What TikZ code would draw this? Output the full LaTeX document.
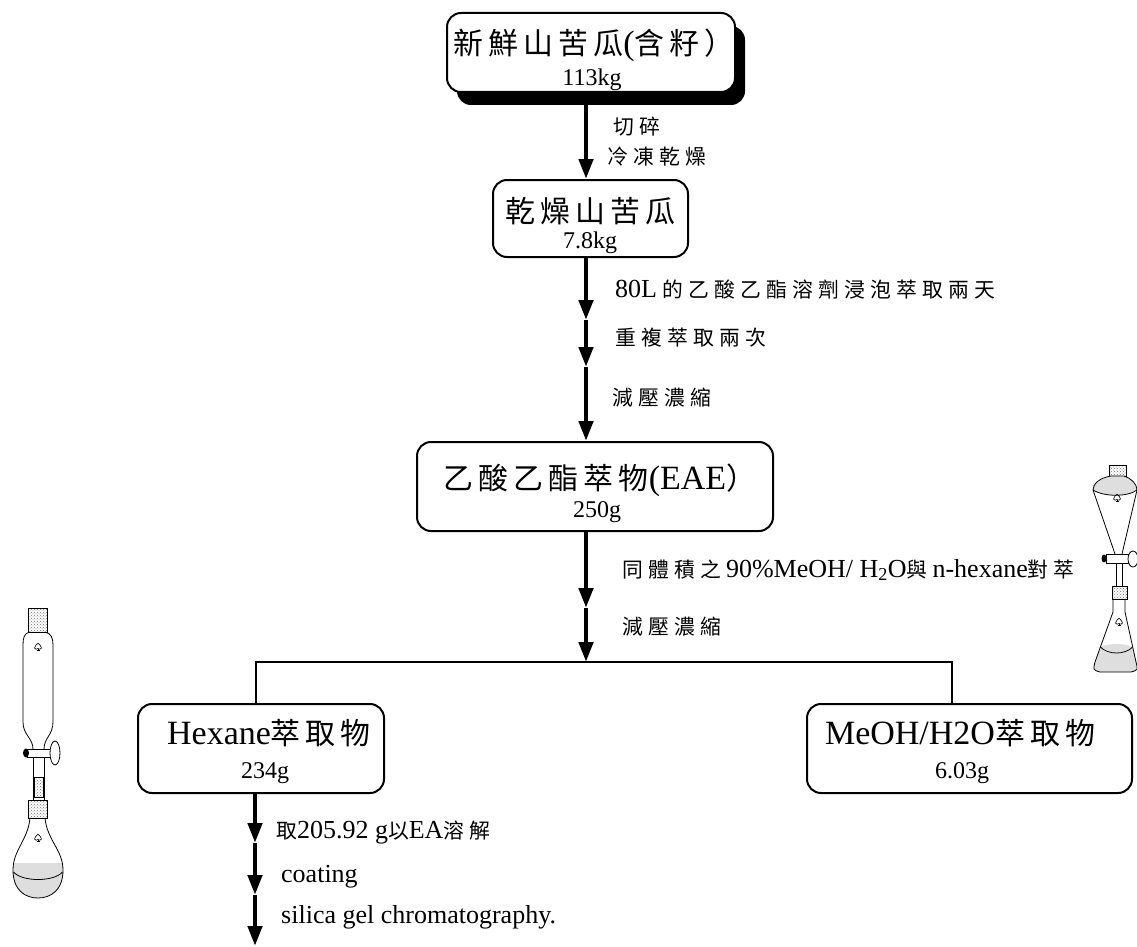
\documentclass[tikz,border=0pt]{standalone}
\usepackage{fontspec}
\setmainfont{Liberation Serif}
% CJK faces: one for box titles, one (wider tracking) for step notes
\newfontfamily\zhT[Scale=0.88,LetterSpace=17]{Noto Sans CJK TC}
\newfontfamily\zhL[Scale=0.8,LetterSpace=25]{Noto Sans CJK TC}
\newcommand\zhgap{\hspace{5pt}}
\usetikzlibrary{arrows.meta,patterns,shadows}

\tikzset{
  glassmark/.pic={
    \draw[line width=0.6pt] (0,-4) .. controls (-1,-2) and (-4,-1) .. (-3.5,1)
      .. controls (-3,2.5) and (-1,2.5) .. (0,1.5)
      .. controls (1,2.5) and (3,2.5) .. (3.5,1)
      .. controls (4,-1) and (1,-2) .. (0,-4);
    \draw[line width=0.6pt] (0,1.5) -- (0,3.5) (-1.5,3.5) -- (1.5,3.5);
  }
}

\begin{document}
\begin{tikzpicture}[x=1pt,y=-1pt,
  box/.style={draw, line width=2pt, rounded corners=14pt, fill=white, inner sep=0pt},
  ttl/.style={inner sep=0pt, font=\fontsize{34}{36}\selectfont},
  qty/.style={inner sep=0pt, font=\fontsize{24}{26}\selectfont},
  note/.style={inner sep=0pt, anchor=west, font=\fontsize{26}{28}\selectfont},
  flow/.style={line width=4.5pt, -{Triangle[length=20pt,width=14pt]}},
  wire/.style={line width=2pt},
  glass/.style={line width=0.8pt},
  cork/.style={glass, pattern=crosshatch dots, pattern color=black!55},
  liquid/.style={fill=black!13},
]
\useasboundingbox (0,0) rectangle (1137,947);

% ---------- process boxes ----------
\node[box, minimum width=288pt, minimum height=79pt,
      drop shadow={shadow xshift=10pt, shadow yshift=-13pt, fill=black, opacity=1}]
      (fresh) at (591,52.5) {};
\node[box, minimum width=195pt, minimum height=77pt] (dried) at (590.5,218.5) {};
\node[box, minimum width=356pt, minimum height=89pt] (eae) at (595,486.5) {};
\node[box, minimum width=246pt, minimum height=89pt] (hex) at (261,748.5) {};
\node[box, minimum width=325pt, minimum height=89pt] (aq) at (969.5,748.5) {};

\node[ttl] (freshT) at (594,45) {{\zhT 新鮮山苦瓜}({\zhT 含籽）}};
\node[qty] (freshQ) at (592,80) {113kg};
\node[ttl] (driedT) at (590,211) {{\zhT 乾燥山苦瓜}};
\node[qty] (driedQ) at (590,243) {7.8kg};
\node[ttl] (eaeT) at (600,480) {{\zhT 乙酸乙酯萃物}(EAE{\zhT ）}};
\node[qty] (eaeQ) at (597,512) {250g};
\node[ttl] (hexT) at (269,733) {Hexane{\zhT 萃取物}};
\node[qty] (hexQ) at (265,773) {234g};
\node[ttl] (aqT) at (960,733) {MeOH/H2O{\zhT 萃取物}};
\node[qty] (aqQ) at (962,773) {6.03g};

% ---------- arrow stations ----------
\coordinate (s1) at (586,320);
\coordinate (s2) at (586,367);
\coordinate (s3) at (586,608);
\coordinate (jl) at (256,662);
\coordinate (jm) at (586,662);
\coordinate (jr) at (952,662);
\coordinate (t1) at (255,843);
\coordinate (t2) at (255,895);
\coordinate (t3) at (255,946);

\draw[flow] (s1 |- fresh.south) -- (s1 |- dried.north);
\draw[flow] (s1 |- dried.south) -- (s1);
\draw[flow] (s1) -- (s2);
\draw[flow] (s2) -- (s2 |- eae.north);
\draw[flow] (s3 |- eae.south) -- (s3);
\draw[flow] (s3) -- (jm);
\draw[wire] (jl |- hex.north) -- (jl) -- (jr) -- (jr |- aq.north);
\draw[flow] (t1 |- hex.south) -- (t1);
\draw[flow] (t1) -- (t2);
\draw[flow] (t2) -- (t3);

% ---------- step notes ----------
\node[note] (n1) at (613,127) {{\zhL 切碎}};
\node[note] (n2) at (607,157) {{\zhL 冷凍乾燥}};
\node[note] (n3) at (615,290) {80L\zhgap{\zhL 的乙酸乙酯溶劑浸泡萃取兩天}};
\node[note] (n4) at (615,338) {{\zhL 重複萃取兩次}};
\node[note] (n5) at (612,398) {{\zhL 減壓濃縮}};
\node[note] (n6) at (622,570) {{\zhL 同體積之}\zhgap 90\%MeOH/ H\textsubscript{2}O{\zhL 與}\zhgap n-hexane{\zhL 對萃}};
\node[note] (n7) at (622,627) {{\zhL 減壓濃縮}};
\node[note] (n8) at (276,832) {{\zhL 取}205.92 g{\zhL 以}EA{\zhL 溶解}};
\node[note] (n9) at (281,877) {coating};
\node[note] (n10) at (281,917) {silica gel chromatography.};

% ---------- separatory funnel over conical flask ----------
\draw[cork] (1109,465) rectangle (1126,476);
\filldraw[glass, liquid] (1111,476) .. controls (1099,478) and (1093,484) .. (1093,490)
  .. controls (1104,497) and (1128,497) .. (1137,490)
  .. controls (1137,484) and (1131,478) .. (1124,476) -- cycle;
\draw[glass] (1093,490) -- (1115,554) (1137,490) -- (1122,554);
\pic at (1117,498) {glassmark};
\draw[glass, fill=white] (1106,554) rectangle (1129,563);
\draw[glass, fill=white] (1133,559) ellipse (5pt and 8pt);
\fill (1104,558.5) ellipse (2.5pt and 4pt);
\draw[glass] (1116,563) -- (1116,586) (1122,563) -- (1122,586);
\draw[cork] (1112,586) rectangle (1127,599);
\fill[liquid] (1100.4,647) .. controls (1108,643) and (1125,643) .. (1132.7,647)
  -- (1136,662) .. controls (1138,670) .. (1131,672) -- (1100,672)
  .. controls (1093,670) .. (1095,662) -- cycle;
\draw[glass] (1113,599) -- (1113,612) -- (1095,662) .. controls (1093,670) .. (1100,672)
  -- (1131,672) .. controls (1138,670) .. (1136,662) -- (1125,612) -- (1125,599);
\draw[glass] (1100.4,647) .. controls (1108,655) and (1125,655) .. (1132.7,647);
\pic at (1119,622) {glassmark};

% ---------- addition funnel over pear-shaped flask ----------
\draw[cork] (28,608) rectangle (47,632);
\draw[glass] (30,632) .. controls (24,633) and (23,638) .. (23,645) -- (23,722)
  .. controls (23,735) and (33,738) .. (33,749);
\draw[glass] (45,632) .. controls (51,633) and (53,638) .. (53,645) -- (53,722)
  .. controls (53,735) and (44,738) .. (44,749);
\pic at (38,647) {glassmark};
\draw[glass, fill=white] (27,749) rectangle (52,757);
\draw[glass, fill=white] (55,753) ellipse (5pt and 12pt);
\fill (26,753) ellipse (3pt and 4.5pt);
\draw[glass] (33,757) -- (33,800) (44,757) -- (44,800);
\draw[cork] (34,777) rectangle (43,797);
\draw[cork] (28,800) rectangle (47,818);
\begin{scope}
  \clip (30,818) .. controls (28,840) and (13,850) .. (13,870)
    .. controls (13,890) and (25,898) .. (38,898)
    .. controls (51,898) and (63,890) .. (63,870)
    .. controls (63,850) and (47,840) .. (45,818) -- cycle;
  \fill[liquid] (0,863) rectangle (76,905);
\end{scope}
\draw[glass] (30,818) .. controls (28,840) and (13,850) .. (13,870)
  .. controls (13,890) and (25,898) .. (38,898)
  .. controls (51,898) and (63,890) .. (63,870)
  .. controls (63,850) and (47,840) .. (45,818);
\draw[glass] (13.5,872) .. controls (22,882) and (54,882) .. (62.5,872);
\pic at (38,838) {glassmark};
\end{tikzpicture}
\end{document}
